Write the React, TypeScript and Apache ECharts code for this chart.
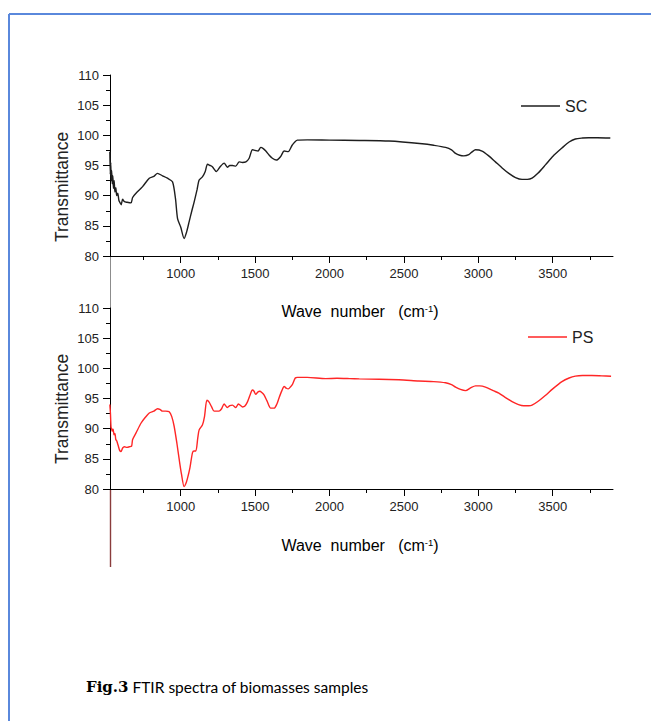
import React, { useEffect, useRef } from "react";
import * as echarts from "echarts";

// ---- data ----
const scWave = [524, 527, 530, 533, 536, 540, 544, 548, 553, 558, 564, 570, 577, 585, 593, 600, 610, 622, 640, 666, 677, 700, 744, 789, 820, 844, 878, 911, 945, 965, 979, 1000, 1023, 1040, 1057, 1075, 1091, 1110, 1124, 1146, 1165, 1180, 1198, 1213, 1240, 1265, 1292, 1314, 1330, 1348, 1370, 1393, 1415, 1438, 1460, 1482, 1500, 1520, 1538, 1555, 1572, 1595, 1616, 1643, 1672, 1695, 1723, 1750, 1784, 1850, 2000, 2200, 2400, 2623, 2700, 2780, 2820, 2847, 2875, 2903, 2936, 2960, 2981, 3025, 3070, 3115, 3160, 3205, 3250, 3294, 3330, 3361, 3400, 3451, 3500, 3562, 3610, 3652, 3700, 3741, 3800, 3887];
const scTrans = [97.3, 93.5, 95.5, 92.5, 94.2, 92.0, 93.3, 91.2, 92.5, 90.6, 91.3, 90.0, 90.4, 89.2, 88.8, 88.5, 89.4, 89.0, 88.9, 88.8, 89.7, 90.4, 91.5, 92.9, 93.2, 93.7, 93.3, 92.9, 92.3, 89.5, 86.2, 84.8, 82.9, 84.0, 85.7, 87.5, 89.0, 91.0, 92.6, 93.1, 94.0, 95.2, 95.0, 94.8, 94.0, 94.8, 95.4, 94.7, 95.0, 95.0, 94.9, 95.6, 95.5, 95.6, 96.2, 97.6, 97.5, 97.4, 98.0, 97.8, 97.4, 96.7, 96.2, 95.9, 96.5, 97.4, 97.3, 98.4, 99.2, 99.25, 99.2, 99.15, 99.05, 98.6, 98.35, 98.0, 97.6, 97.0, 96.7, 96.6, 96.8, 97.3, 97.6, 97.4, 96.6, 95.6, 94.6, 93.7, 93.0, 92.7, 92.7, 92.9, 93.7, 95.1, 96.5, 97.9, 98.9, 99.4, 99.55, 99.6, 99.6, 99.55];

const psWave = [524, 528, 532, 536, 540, 546, 552, 558, 564, 570, 580, 590, 599, 610, 622, 640, 655, 670, 677, 700, 733, 760, 789, 820, 844, 860, 878, 900, 923, 940, 956, 975, 990, 1005, 1023, 1035, 1046, 1062, 1079, 1090, 1102, 1115, 1124, 1146, 1160, 1176, 1191, 1208, 1225, 1258, 1275, 1292, 1314, 1330, 1348, 1370, 1388, 1415, 1430, 1448, 1465, 1482, 1493, 1504, 1520, 1531, 1545, 1560, 1580, 1605, 1628, 1645, 1661, 1680, 1695, 1710, 1723, 1740, 1750, 1770, 1784, 1850, 1974, 2050, 2136, 2200, 2466, 2600, 2700, 2780, 2820, 2847, 2880, 2914, 2950, 2981, 3010, 3048, 3100, 3138, 3180, 3227, 3270, 3305, 3340, 3361, 3400, 3450, 3500, 3562, 3610, 3652, 3700, 3763, 3830, 3892];
const psTrans = [94.0, 92.5, 90.2, 90.0, 89.6, 89.9, 89.0, 89.2, 88.2, 88.0, 87.2, 86.4, 86.2, 86.8, 87.0, 86.9, 87.0, 87.1, 88.2, 89.3, 90.9, 91.8, 92.6, 92.9, 93.3, 93.2, 92.9, 92.9, 92.8, 92.0, 90.4, 87.5, 84.9, 82.5, 80.4, 80.9, 81.8, 83.5, 86.0, 86.3, 86.3, 88.5, 89.8, 90.6, 92.0, 94.7, 94.4, 93.6, 92.9, 92.9, 93.3, 94.1, 93.5, 93.8, 93.9, 93.5, 94.1, 93.6, 93.7, 94.4, 95.5, 96.4, 96.2, 95.7, 96.1, 96.2, 96.0, 95.6, 94.6, 93.4, 93.4, 94.0, 95.1, 96.3, 97.0, 96.7, 96.6, 97.0, 97.3, 98.4, 98.5, 98.5, 98.3, 98.35, 98.3, 98.25, 98.1, 97.9, 97.8, 97.6, 97.3, 96.9, 96.5, 96.3, 96.8, 97.1, 97.1, 96.9, 96.3, 95.9, 95.2, 94.5, 94.0, 93.8, 93.8, 93.9, 94.5, 95.5, 96.6, 97.8, 98.4, 98.7, 98.8, 98.8, 98.75, 98.7];

const waveMajorTicks = [1000, 1500, 2000, 2500, 3000, 3500];
const waveMinorTicks = [750, 1250, 1750, 2250, 2750, 3250, 3750];
const waveMin = 525;
const waveMax = 3905;
const transMin = 80;
const transMax = 110;
const transStep = 5;

const seriesNames = ["SC", "PS"];
const seriesColors = ["#1e1e1e", "#ff2626"];
const captionBold = "Fig.3";
const captionText = " FTIR spectra of biomasses samples";
const yTitle = "Transmittance";

const SANS = "'Liberation Sans', Arial, sans-serif";

export default function App() {
  const ref = useRef<HTMLDivElement>(null);

  useEffect(() => {
    if (!ref.current) return;
    const chart = echarts.init(ref.current, null, { renderer: "svg" });

    const grids = [
      { left: 110, top: 75, width: 503, height: 181 },
      { left: 110, top: 308, width: 503, height: 181 },
    ];

    const plain = (v: number) => String(v);

    const xAxes: any[] = [];
    const yAxes: any[] = [];
    grids.forEach((_, gi) => {
      xAxes.push({
        gridIndex: gi,
        type: "value",
        min: waveMin,
        max: waveMax,
        position: "bottom",
        axisLine: { show: true, onZero: false, lineStyle: { color: "#000", width: 1 } },
        axisTick: { show: true, length: 7, customValues: waveMajorTicks, lineStyle: { color: "#000" } },
        axisLabel: {
          show: true,
          customValues: waveMajorTicks,
          formatter: plain,
          margin: 11,
          color: "#222",
          fontSize: 13,
          fontFamily: SANS,
        },
        splitLine: { show: false },
      });
      xAxes.push({
        gridIndex: gi,
        type: "value",
        min: waveMin,
        max: waveMax,
        position: "bottom",
        axisLine: { show: false, onZero: false },
        axisTick: { show: true, length: 4, customValues: waveMinorTicks, lineStyle: { color: "#000" } },
        axisLabel: { show: false },
        splitLine: { show: false },
      });
      yAxes.push({
        gridIndex: gi,
        type: "value",
        min: transMin,
        max: transMax,
        interval: transStep,
        axisLine: { show: true, onZero: false, lineStyle: { color: "#000", width: 1 } },
        axisTick: { show: true, length: 7, lineStyle: { color: "#000" } },
        minorTick: { show: true, splitNumber: 2, length: 4, lineStyle: { color: "#000" } },
        axisLabel: { margin: 11, color: "#222", fontSize: 13, fontFamily: SANS, formatter: plain },
        splitLine: { show: false },
        minorSplitLine: { show: false },
      });
    });

    const sc = scWave.map((w, i) => [w, scTrans[i]]);
    const ps = psWave.map((w, i) => [w, psTrans[i]]);

    const titleRich = {
      a: { fontSize: 16, fontFamily: SANS, color: "#222" },
      b: { fontSize: 9.5, fontFamily: SANS, color: "#222", verticalAlign: "top" },
    };
    const titleText = "{a|Wave  number   (cm}{b|-1}{a|)}";

    const option: any = {
      animation: false,
      backgroundColor: "#fff",
      grid: grids.map((g) => ({ ...g, containLabel: false })),
      xAxis: xAxes,
      yAxis: yAxes,
      legend: [
        {
          data: [{ name: seriesNames[0], icon: "rect" }],
          left: 521,
          top: 98,
          padding: 0,
          itemWidth: 39,
          itemHeight: 1.6,
          textStyle: { fontSize: 16, fontFamily: SANS, color: "#222" },
        },
        {
          data: [{ name: seriesNames[1], icon: "rect" }],
          left: 528,
          top: 329,
          padding: 0,
          itemWidth: 39,
          itemHeight: 1.6,
          textStyle: { fontSize: 16, fontFamily: SANS, color: "#222" },
        },
      ],
      series: [
        {
          name: seriesNames[0],
          type: "line",
          xAxisIndex: 0,
          yAxisIndex: 0,
          data: sc,
          showSymbol: false,
          smooth: 0.25,
          color: seriesColors[0],
          lineStyle: { color: seriesColors[0], width: 1.4 },
        },
        {
          name: seriesNames[1],
          type: "line",
          xAxisIndex: 2,
          yAxisIndex: 1,
          data: ps,
          showSymbol: false,
          smooth: 0.25,
          color: seriesColors[1],
          lineStyle: { color: seriesColors[1], width: 1.4 },
        },
      ],
      graphic: [
        // page frame
        { type: "line", shape: { x1: 9, y1: 14, x2: 651, y2: 14 }, style: { stroke: "#5a88dc", lineWidth: 2 } },
        { type: "line", shape: { x1: 9, y1: 14, x2: 9, y2: 721 }, style: { stroke: "#5a88dc", lineWidth: 2 } },
        // axis extensions
        { type: "line", shape: { x1: 110.5, y1: 256, x2: 110.5, y2: 308 }, style: { stroke: "#8c8c8c", lineWidth: 1 } },
        { type: "line", shape: { x1: 110.5, y1: 489, x2: 110.5, y2: 567 }, style: { stroke: "#8a3c3c", lineWidth: 1.4 } },
        // axis titles
        {
          type: "text",
          x: 61.5,
          y: 187,
          rotation: Math.PI / 2,
          style: { text: yTitle, fontSize: 17.5, fontFamily: SANS, fill: "#222", align: "center", verticalAlign: "middle" },
        },
        {
          type: "text",
          x: 61.5,
          y: 409,
          rotation: Math.PI / 2,
          style: { text: yTitle, fontSize: 17.5, fontFamily: SANS, fill: "#222", align: "center", verticalAlign: "middle" },
        },
        {
          type: "text",
          x: 360,
          y: 311,
          style: { text: titleText, rich: titleRich, align: "center", verticalAlign: "middle" },
        },
        {
          type: "text",
          x: 360,
          y: 545,
          style: { text: titleText, rich: titleRich, align: "center", verticalAlign: "middle" },
        },
        // caption
        {
          type: "text",
          x: 86,
          y: 687,
          style: {
            text: "{f|" + captionBold + "}{t|" + captionText + "}",
            verticalAlign: "middle",
            align: "left",
            rich: {
              f: { fontSize: 15, fontWeight: "bold", fontFamily: "'DejaVu Serif', serif", color: "#111" },
              t: { fontSize: 15.5, fontFamily: "Lato, sans-serif", color: "#222" },
            },
          },
        },
      ],
    };

    chart.setOption(option);
    return () => chart.dispose();
  }, []);

  return (
    <div
      ref={ref}
      style={{ position: "absolute", left: 0, top: 0, width: 651, height: 721, background: "#fff" }}
    />
  );
}
